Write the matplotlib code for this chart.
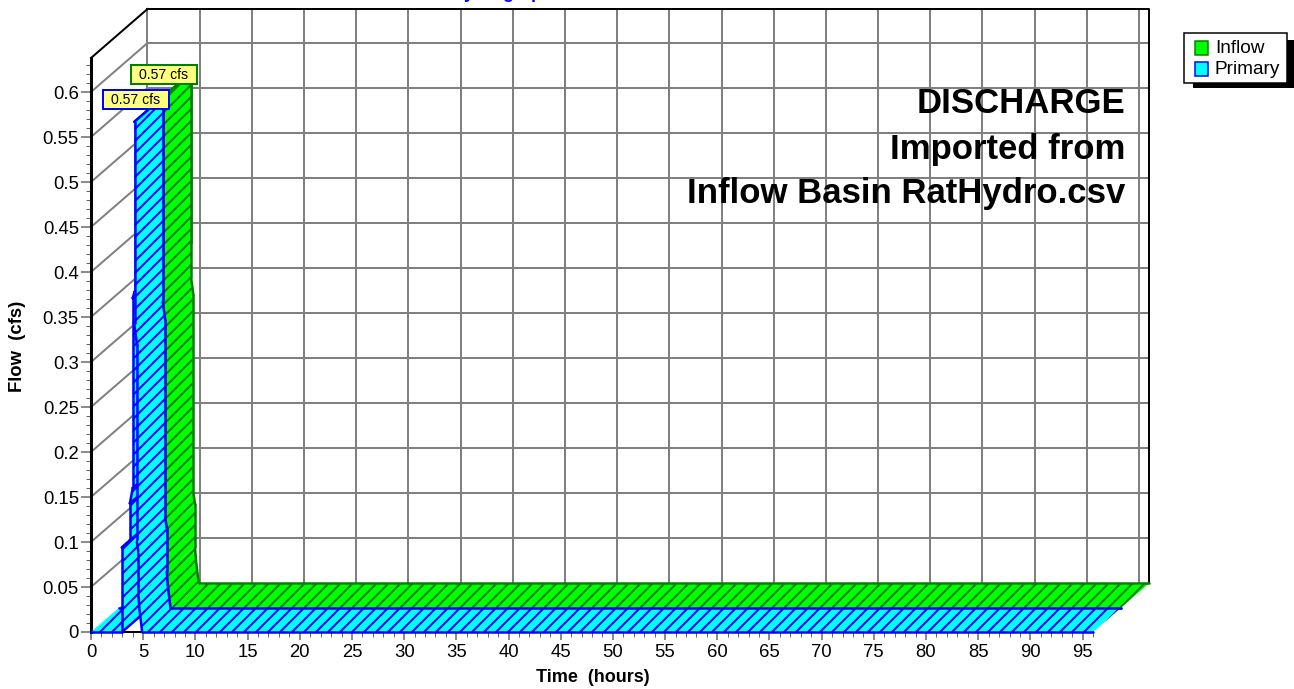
# -*- coding: utf-8 -*-
from matplotlib import pyplot as plt
from matplotlib.patches import Rectangle
from matplotlib.ticker import MultipleLocator

WIDTH, HEIGHT = 1294, 689

# hydrograph ordinates
inflow_time = [0, 2.97, 2.97, 3.73, 3.73, 4.0, 4.0, 4.17, 4.17, 4.17,
               4.4, 4.4, 4.55, 4.55, 4.65, 4.9, 96]
inflow_flow = [0, 0, 0.094, 0.102, 0.143, 0.16, 0.371, 0.378, 0.567, 0.34,
               0.32, 0.10, 0.088, 0.04, 0.025, 0, 0]
primary_time = [0, 2.97, 2.97, 3.73, 3.73, 4.0, 4.0, 4.17, 4.17, 4.17,
                4.4, 4.4, 4.55, 4.55, 4.65, 4.9, 96]
primary_flow = [0, 0, 0.094, 0.102, 0.143, 0.16, 0.371, 0.378, 0.567, 0.34,
                0.32, 0.10, 0.088, 0.04, 0.025, 0, 0]

x_ticks = list(range(0, 100, 5))
y_ticks = [0, 0.05, 0.1, 0.15, 0.2, 0.25, 0.3, 0.35, 0.4, 0.45, 0.5, 0.55, 0.6]
y_labels = ['0', '0.05', '0.1', '0.15', '0.2', '0.25', '0.3', '0.35', '0.4',
            '0.45', '0.5', '0.55', '0.6']

peak_label = '0.57 cfs'
note_lines = ['DISCHARGE', 'Imported from', 'Inflow Basin RatHydro.csv']

plt.rcParams['font.family'] = ['Liberation Sans', 'DejaVu Sans']
plt.rcParams['hatch.linewidth'] = 2.0

XMAX = 96.0
YMAX = 0.6378
# size of the full depth of the box, in data units
DEPTH_X = 56.5 / 10.44
DEPTH_Y = 49 / 900.

GRID = '#808080'
TICK = '#666666'


def project(t, q, z):
    return t + z * DEPTH_X, q + z * DEPTH_Y


def plot_ribbon(ax, time, flow, z0, z1, face, edge, zorder):
    # the plot shows only the swept surface, nothing below the curve is filled
    peak = flow.index(max(flow))
    for i in range(len(time) - 1):
        a0 = project(time[i], flow[i], z0)
        b0 = project(time[i + 1], flow[i + 1], z0)
        b1 = project(time[i + 1], flow[i + 1], z1)
        a1 = project(time[i], flow[i], z1)
        z = zorder + i * 0.001
        ax.fill([a0[0], b0[0], b1[0], a1[0]], [a0[1], b0[1], b1[1], a1[1]],
                facecolor=face, edgecolor=edge, hatch='//', linewidth=0,
                clip_on=False, zorder=z)

        # front and back edge of the segment
        ax.plot([a0[0], b0[0]], [a0[1], b0[1]], color=edge, lw=2.5,
                clip_on=False, zorder=z + 0.0005, solid_capstyle='round')
        ax.plot([a1[0], b1[0]], [a1[1], b1[1]], color=edge, lw=2.5,
                clip_on=False, zorder=z + 0.0005, solid_capstyle='round')

        # cross edges only up the rising limb
        if 0 < i <= peak:
            ax.plot([a0[0], a1[0]], [a0[1], a1[1]], color=edge, lw=2.5,
                    clip_on=False, zorder=z + 0.0005)
        if i == peak - 1:
            ax.plot([b0[0], b1[0]], [b0[1], b1[1]], color=edge, lw=2.5,
                    clip_on=False, zorder=z + 0.0005)


def plot_walls(ax):
    back_x = [project(0, 0, 1)[0], project(XMAX, 0, 1)[0]]
    back_y = [project(0, 0, 1)[1], project(0, YMAX, 1)[1]]

    # grid lines on the back wall and the left wall
    for q in y_ticks[1:]:
        x, y = project(0, q, 1)
        ax.plot(back_x, [y, y], color=GRID, lw=2, clip_on=False, zorder=1)
        ax.plot([0, x], [q, y], color=GRID, lw=2, clip_on=False, zorder=1)
    for t in x_ticks:
        x, y = project(t, 0, 1)
        ax.plot([x, x], back_y, color=GRID, lw=2, clip_on=False, zorder=1)

    # box outline
    ax.plot([back_x[0], back_x[1], back_x[1]], [back_y[1], back_y[1], back_y[0]],
            color='black', lw=2, clip_on=False, zorder=2)
    ax.plot([0, back_x[0]], [YMAX, back_y[1]], color='black', lw=2,
            clip_on=False, zorder=2)


def plot_overlay(fig):
    # labels, notes and legend are placed in pixels of the picture
    ov = fig.add_axes([0, 0, 1, 1])
    ov.set_xlim(0, WIDTH)
    ov.set_ylim(HEIGHT, 0)
    ov.axis('off')
    ov.patch.set_alpha(0)

    ov.text(503, -2, 'Hydrograph', color='#0000ff', fontsize=18,
            fontweight='bold', ha='center', va='baseline', clip_on=False)

    # peak labels
    ov.add_patch(Rectangle((131, 65), 66, 19, fc='#ffff80', ec='#008000', lw=2))
    ov.text(164, 75, peak_label, fontsize=14, ha='center', va='center')
    ov.add_patch(Rectangle((103, 90), 66, 19, fc='#ffff80', ec='#0000ff', lw=2))
    ov.text(136, 100, peak_label, fontsize=14, ha='center', va='center')

    # note
    for line, base in zip(note_lines, [113, 159, 203]):
        ov.text(1125, base, line, fontsize=34.7, fontweight='bold', ha='right',
                va='baseline')

    # legend
    ov.add_patch(Rectangle((1193, 40), 101, 48, fc='black', ec='none'))
    ov.add_patch(Rectangle((1184, 33), 103, 50, fc='white', ec='black', lw=1.5))
    ov.add_patch(Rectangle((1195, 41), 13, 14, fc='#00ff00', ec='#008000', lw=1.5))
    ov.add_patch(Rectangle((1195, 62), 13, 14, fc='#00ffff', ec='#0000ff', lw=1.5))
    ov.text(1215, 53, 'Inflow', fontsize=19, va='baseline')
    ov.text(1215, 74, 'Primary', fontsize=19, va='baseline')


fig = plt.figure(figsize=(WIDTH / 72., HEIGHT / 72.), dpi=72)
ax = fig.add_axes([91. / WIDTH, (HEIGHT - 632.) / HEIGHT, 1002. / WIDTH, 574. / HEIGHT])
ax.patch.set_alpha(0)

plot_walls(ax)

# series, back one first
plot_ribbon(ax, inflow_time, inflow_flow, 0.5, 1.0, '#00ff00', '#008000', 3)
plot_ribbon(ax, primary_time, primary_flow, 0.0, 0.5, '#00ffff', '#0000ff', 4)

# axis limits
ax.set_xlim(0, XMAX)
ax.set_ylim(0, YMAX)

# ticks
ax.set_xticks(x_ticks)
ax.set_yticks(y_ticks)
ax.set_yticklabels(y_labels)
ax.xaxis.set_minor_locator(MultipleLocator(1))
ax.yaxis.set_minor_locator(MultipleLocator(0.01))
ax.tick_params(which='major', length=10, width=1.5, color=TICK, labelsize=18.5, pad=2)
ax.tick_params(which='minor', length=5, width=1, color=TICK)
ax.tick_params(axis='x', which='major', length=8, pad=4)

# spines
ax.spines['top'].set_visible(False)
ax.spines['right'].set_visible(False)
ax.spines['left'].set_linewidth(3)
ax.spines['bottom'].set_linewidth(2)

# axis labels
fig.text(18. / WIDTH, 1 - 346. / HEIGHT, 'Flow  (cfs)', rotation=90, fontsize=18.5,
         fontweight='bold', ha='center', va='center')
fig.text(593. / WIDTH, 1 - 677. / HEIGHT, 'Time  (hours)', fontsize=18,
         fontweight='bold', ha='center', va='center')

plot_overlay(fig)

# save figure
plt.savefig('out.png', dpi=72)
